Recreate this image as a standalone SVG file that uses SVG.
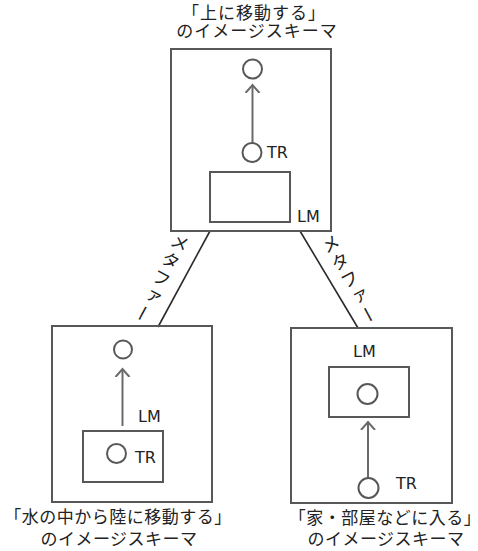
<svg xmlns="http://www.w3.org/2000/svg" width="478" height="551" viewBox="0 0 478 551">
<style>
.box{fill:none;stroke:#585858;stroke-width:2}
.inner{fill:none;stroke:#585858;stroke-width:2}
.circ{fill:#fff;stroke:#585858;stroke-width:2}
.arr{fill:none;stroke:#6a6a6a;stroke-width:2;marker-end:url(#ah)}
.conn{fill:none;stroke:#2a2a2a;stroke-width:1.6}
.jp{font-family:"Noto Sans CJK JP","Noto Sans",sans-serif;font-size:17px;fill:#222;letter-spacing:1px;text-anchor:middle}
.cap{letter-spacing:0.5px}
.lab{font-family:"DejaVu Sans","Liberation Sans",sans-serif;font-size:16px;fill:#222}
.meta{font-family:"Noto Sans CJK JP",sans-serif;font-size:18px;fill:#222;writing-mode:vertical-rl;letter-spacing:2px;text-anchor:middle}
</style>
<defs>
<marker id="ah" viewBox="-8 -8 16 16" markerWidth="16" markerHeight="16" markerUnits="userSpaceOnUse" orient="auto" refX="0" refY="0">
<path d="M-8,-7 L0,0 L-8,7" fill="none" stroke="#6a6a6a" stroke-width="2"/>
</marker>
</defs>
<g id="connectors">
<line class="conn" x1="210" y1="231" x2="158" y2="327"/>
<line class="conn" x1="300" y1="231" x2="358" y2="328"/>
<text class="meta" transform="translate(161 279) rotate(28)">メタファー</text>
<text class="meta" transform="translate(350 280) rotate(-28)">メタファー</text>
</g>
<g id="node-top">
<text class="jp" x="254" y="19">「上に移動する」</text>
<text class="jp" x="257" y="37">のイメージスキーマ</text>
<rect class="box" x="171" y="49" width="160" height="182"/>
<circle class="circ" cx="252.5" cy="69" r="9.5"/>
<line class="arr" x1="252.5" y1="143" x2="252.5" y2="85"/>
<circle class="circ" cx="252" cy="152.5" r="9.5"/>
<text class="lab" x="267" y="158">TR</text>
<rect class="inner" x="210" y="172" width="80" height="50"/>
<text class="lab" x="297" y="222">LM</text>
</g>
<g id="node-left">
<rect class="box" x="52" y="326" width="160" height="176"/>
<circle class="circ" cx="123" cy="349.5" r="9"/>
<line class="arr" x1="122.5" y1="426" x2="122.5" y2="369"/>
<text class="lab" x="138" y="422">LM</text>
<rect class="inner" x="83" y="431" width="80" height="51"/>
<circle class="circ" cx="116.5" cy="453.5" r="9.5"/>
<text class="lab" x="135" y="463">TR</text>
<text class="jp cap" x="118" y="523">「水の中から陸に移動する」</text>
<text class="jp cap" x="119" y="545">のイメージスキーマ</text>
</g>
<g id="node-right">
<rect class="box" x="291" y="328" width="161" height="175"/>
<text class="lab" x="353" y="357">LM</text>
<rect class="inner" x="329" y="367" width="80" height="50"/>
<circle class="circ" cx="367.5" cy="394" r="10"/>
<line class="arr" x1="368" y1="478" x2="368" y2="422"/>
<circle class="circ" cx="368.5" cy="488" r="10"/>
<text class="lab" x="396" y="489">TR</text>
<text class="jp cap" x="385" y="524">「家・部屋などに入る」</text>
<text class="jp cap" x="386" y="545">のイメージスキーマ</text>
</g>
</svg>
